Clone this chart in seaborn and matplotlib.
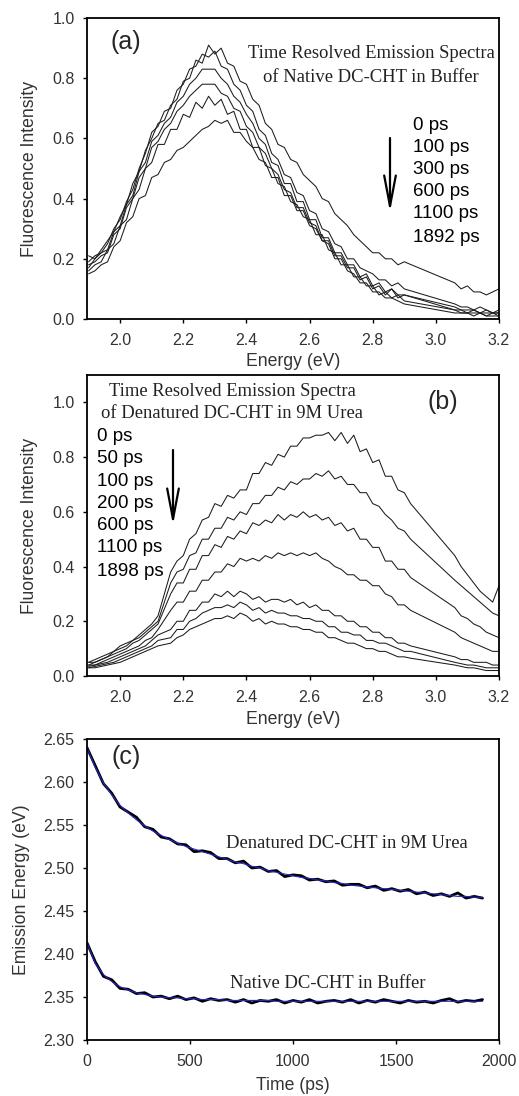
import numpy as np
import pandas as pd
import matplotlib
matplotlib.use("Agg")
import matplotlib.pyplot as plt
import seaborn as sns

# ---------------- data ----------------
energy_a = [1.90, 1.92, 1.94, 1.96, 1.98, 2.00, 2.02, 2.04, 2.06, 2.08, 2.10, 2.12, 2.14, 2.16, 2.18,
            2.20, 2.22, 2.24, 2.26, 2.28, 2.30, 2.32, 2.34, 2.36, 2.38, 2.40, 2.42, 2.44, 2.46, 2.48,
            2.50, 2.52, 2.54, 2.56, 2.58, 2.60, 2.62, 2.64, 2.66, 2.68, 2.70, 2.72, 2.74, 2.76, 2.78,
            2.80, 2.82, 2.84, 2.86, 2.88, 2.90,
            3.06, 3.08, 3.10, 3.12, 3.14, 3.16, 3.18, 3.20]

native_labels = ["0 ps", "100 ps", "300 ps", "600 ps", "1100 ps", "1892 ps"]
native_0 = [0.21, 0.20, 0.23, 0.26, 0.29, 0.34, 0.38, 0.45, 0.49, 0.56, 0.60, 0.65, 0.66, 0.71, 0.73,
            0.79, 0.80, 0.86, 0.85, 0.91, 0.88, 0.90, 0.85, 0.84, 0.79, 0.78, 0.73, 0.71, 0.65, 0.63,
            0.58, 0.57, 0.53, 0.52, 0.48, 0.46, 0.44, 0.40, 0.39, 0.35, 0.33, 0.31, 0.28, 0.26, 0.24,
            0.22, 0.22, 0.20, 0.20, 0.18, 0.19,
            0.12, 0.10, 0.11, 0.09, 0.09, 0.08, 0.09, 0.10]
native_100 = [0.19, 0.21, 0.22, 0.25, 0.30, 0.33, 0.39, 0.43, 0.50, 0.55, 0.62, 0.64, 0.69, 0.70, 0.76,
              0.78, 0.83, 0.84, 0.88, 0.87, 0.89, 0.84, 0.83, 0.78, 0.76, 0.71, 0.69, 0.63, 0.61, 0.55,
              0.53, 0.48, 0.47, 0.42, 0.41, 0.36, 0.35, 0.30, 0.29, 0.25, 0.24, 0.20, 0.20, 0.17, 0.16,
              0.15, 0.13, 0.13, 0.11, 0.12, 0.10,
              0.05, 0.04, 0.04, 0.03, 0.04, 0.03, 0.02, 0.03]
native_300 = [0.17, 0.20, 0.22, 0.23, 0.29, 0.31, 0.38, 0.41, 0.49, 0.52, 0.59, 0.61, 0.65, 0.67, 0.72,
              0.74, 0.78, 0.80, 0.83, 0.83, 0.83, 0.80, 0.78, 0.74, 0.72, 0.68, 0.65, 0.60, 0.58, 0.52,
              0.51, 0.45, 0.45, 0.39, 0.39, 0.33, 0.33, 0.27, 0.27, 0.22, 0.22, 0.18, 0.18, 0.14, 0.15,
              0.11, 0.12, 0.09, 0.10, 0.08, 0.08,
              0.04, 0.03, 0.03, 0.03, 0.02, 0.03, 0.02, 0.02]
native_600 = [0.18, 0.19, 0.21, 0.22, 0.28, 0.30, 0.37, 0.40, 0.47, 0.50, 0.57, 0.59, 0.63, 0.65, 0.69,
              0.71, 0.74, 0.76, 0.78, 0.78, 0.78, 0.75, 0.74, 0.70, 0.69, 0.64, 0.62, 0.57, 0.55, 0.50,
              0.48, 0.43, 0.42, 0.37, 0.37, 0.32, 0.31, 0.26, 0.26, 0.21, 0.21, 0.17, 0.17, 0.13, 0.14,
              0.10, 0.11, 0.08, 0.10, 0.07, 0.08,
              0.03, 0.03, 0.02, 0.03, 0.02, 0.02, 0.02, 0.02]
native_1100 = [0.16, 0.18, 0.19, 0.23, 0.25, 0.31, 0.33, 0.40, 0.43, 0.50, 0.52, 0.58, 0.58, 0.63, 0.63,
               0.68, 0.67, 0.72, 0.70, 0.74, 0.71, 0.73, 0.68, 0.69, 0.63, 0.63, 0.57, 0.57, 0.51, 0.50,
               0.45, 0.44, 0.39, 0.38, 0.34, 0.33, 0.28, 0.28, 0.23, 0.22, 0.18, 0.18, 0.14, 0.14, 0.11,
               0.11, 0.08, 0.09, 0.07, 0.08, 0.06,
               0.03, 0.02, 0.02, 0.02, 0.02, 0.01, 0.02, 0.01]
native_1892 = [0.15, 0.16, 0.18, 0.19, 0.24, 0.26, 0.32, 0.34, 0.40, 0.41, 0.47, 0.48, 0.52, 0.53, 0.56,
               0.57, 0.59, 0.61, 0.63, 0.64, 0.66, 0.65, 0.66, 0.62, 0.62, 0.59, 0.57, 0.53, 0.52, 0.47,
               0.47, 0.41, 0.41, 0.36, 0.36, 0.31, 0.30, 0.26, 0.25, 0.20, 0.20, 0.16, 0.15, 0.12, 0.12,
               0.09, 0.09, 0.07, 0.07, 0.06, 0.05,
               0.02, 0.02, 0.02, 0.01, 0.02, 0.01, 0.01, 0.01]

energy_b = [1.90, 1.92, 1.94, 1.96, 1.98, 2.00, 2.02, 2.04, 2.06, 2.08, 2.10, 2.12,
            2.16, 2.18, 2.20, 2.22, 2.24, 2.26, 2.28, 2.30, 2.32, 2.34, 2.36, 2.38, 2.40, 2.42,
            2.44, 2.46, 2.48, 2.50, 2.52, 2.54, 2.56, 2.58, 2.60, 2.62, 2.64, 2.66, 2.68, 2.70,
            2.72, 2.74, 2.76, 2.78, 2.80, 2.82, 2.84, 2.86, 2.88, 2.90, 2.92,
            3.06, 3.08, 3.10, 3.12, 3.14, 3.16, 3.18, 3.20]

urea_labels = ["0 ps", "50 ps", "100 ps", "200 ps", "600 ps", "1100 ps", "1898 ps"]
urea_0 = [0.05, 0.06, 0.07, 0.08, 0.09, 0.11, 0.12, 0.13, 0.15, 0.17, 0.19, 0.22,
          0.38, 0.42, 0.44, 0.50, 0.52, 0.57, 0.58, 0.63, 0.62, 0.66, 0.65, 0.68, 0.68, 0.74,
          0.74, 0.78, 0.77, 0.81, 0.80, 0.84, 0.84, 0.87, 0.87, 0.88, 0.88, 0.89, 0.86, 0.89,
          0.85, 0.88, 0.82, 0.83, 0.78, 0.79, 0.73, 0.73, 0.68, 0.67, 0.63,
          0.44, 0.40, 0.37, 0.34, 0.31, 0.29, 0.27, 0.33]
urea_50 = [0.05, 0.05, 0.06, 0.07, 0.09, 0.10, 0.11, 0.13, 0.14, 0.16, 0.18, 0.20,
           0.34, 0.38, 0.39, 0.44, 0.45, 0.50, 0.50, 0.54, 0.54, 0.58, 0.57, 0.60, 0.59, 0.63,
           0.63, 0.66, 0.66, 0.69, 0.68, 0.71, 0.70, 0.72, 0.72, 0.74, 0.73, 0.75, 0.72, 0.73,
           0.70, 0.70, 0.67, 0.67, 0.63, 0.62, 0.59, 0.57, 0.54, 0.53, 0.50,
           0.35, 0.33, 0.31, 0.29, 0.27, 0.25, 0.23, 0.22]
urea_100 = [0.04, 0.05, 0.06, 0.07, 0.08, 0.09, 0.10, 0.12, 0.13, 0.15, 0.17, 0.19,
            0.30, 0.34, 0.34, 0.39, 0.39, 0.44, 0.44, 0.48, 0.47, 0.51, 0.50, 0.53, 0.52, 0.56,
            0.55, 0.57, 0.56, 0.59, 0.57, 0.59, 0.58, 0.60, 0.58, 0.59, 0.57, 0.58, 0.55, 0.56,
            0.53, 0.54, 0.50, 0.50, 0.47, 0.47, 0.42, 0.42, 0.39, 0.39, 0.36,
            0.25, 0.22, 0.21, 0.19, 0.18, 0.16, 0.15, 0.14]
urea_200 = [0.04, 0.04, 0.05, 0.06, 0.07, 0.08, 0.09, 0.10, 0.11, 0.13, 0.14, 0.17,
            0.24, 0.27, 0.27, 0.31, 0.31, 0.35, 0.35, 0.38, 0.38, 0.41, 0.40, 0.43, 0.42, 0.43,
            0.42, 0.44, 0.43, 0.45, 0.44, 0.45, 0.44, 0.45, 0.44, 0.45, 0.43, 0.42, 0.40, 0.39,
            0.37, 0.37, 0.35, 0.35, 0.33, 0.33, 0.30, 0.29, 0.26, 0.26, 0.24,
            0.16, 0.14, 0.13, 0.12, 0.11, 0.10, 0.09, 0.09]
urea_600 = [0.035, 0.04, 0.045, 0.05, 0.06, 0.07, 0.08, 0.09, 0.10, 0.11, 0.13, 0.15,
            0.17, 0.20, 0.20, 0.24, 0.24, 0.27, 0.27, 0.30, 0.29, 0.31, 0.29, 0.31, 0.30, 0.28,
            0.29, 0.27, 0.28, 0.28, 0.27, 0.28, 0.26, 0.27, 0.25, 0.26, 0.24, 0.24, 0.22, 0.22,
            0.20, 0.20, 0.18, 0.18, 0.16, 0.16, 0.14, 0.14, 0.12, 0.12, 0.11,
            0.07, 0.06, 0.06, 0.05, 0.05, 0.05, 0.04, 0.04]
urea_1100 = [0.03, 0.035, 0.04, 0.045, 0.05, 0.06, 0.07, 0.08, 0.09, 0.10, 0.11, 0.13,
             0.14, 0.17, 0.17, 0.20, 0.21, 0.23, 0.24, 0.25, 0.25, 0.26, 0.25, 0.27, 0.26, 0.24,
             0.25, 0.23, 0.24, 0.23, 0.23, 0.22, 0.22, 0.21, 0.21, 0.20, 0.20, 0.18, 0.18, 0.16,
             0.16, 0.15, 0.15, 0.13, 0.13, 0.12, 0.12, 0.11, 0.10, 0.09, 0.09,
             0.05, 0.045, 0.04, 0.04, 0.035, 0.03, 0.03, 0.03]
urea_1898 = [0.03, 0.03, 0.035, 0.04, 0.045, 0.05, 0.06, 0.07, 0.08, 0.09, 0.10, 0.11,
             0.12, 0.14, 0.15, 0.17, 0.18, 0.19, 0.20, 0.21, 0.21, 0.22, 0.21, 0.23, 0.22, 0.20,
             0.21, 0.19, 0.20, 0.19, 0.19, 0.18, 0.18, 0.17, 0.17, 0.16, 0.16, 0.14, 0.14, 0.13,
             0.12, 0.12, 0.11, 0.10, 0.10, 0.09, 0.09, 0.08, 0.07, 0.07, 0.065,
             0.04, 0.035, 0.03, 0.03, 0.025, 0.02, 0.02, 0.02]

time_ps = [0, 40, 80, 120, 160, 200, 240, 280, 320, 360, 400, 440, 480, 520, 560, 600, 640,
           680, 720, 760, 800, 840, 880, 920, 960, 1000, 1040, 1080, 1120, 1160, 1200, 1240,
           1280, 1320, 1360, 1400, 1440, 1480, 1520, 1560, 1600, 1640, 1680, 1720, 1760, 1800,
           1840, 1880, 1920]
denatured_data = [2.640, 2.619, 2.598, 2.587, 2.571, 2.565, 2.559, 2.548, 2.545, 2.536, 2.534,
                  2.528, 2.527, 2.519, 2.520, 2.518, 2.511, 2.511, 2.506, 2.508, 2.500, 2.501,
                  2.496, 2.497, 2.490, 2.492, 2.491, 2.486, 2.487, 2.484, 2.485, 2.480, 2.481,
                  2.481, 2.477, 2.479, 2.474, 2.476, 2.473, 2.475, 2.470, 2.472, 2.468, 2.470,
                  2.467, 2.471, 2.465, 2.467, 2.465]
denatured_fit = [2.640, 2.617, 2.599, 2.585, 2.573, 2.564, 2.556, 2.549, 2.543, 2.538, 2.533,
                 2.529, 2.525, 2.522, 2.519, 2.516, 2.513, 2.510, 2.507, 2.505, 2.502, 2.500,
                 2.497, 2.495, 2.493, 2.491, 2.489, 2.488, 2.486, 2.485, 2.483, 2.482, 2.480,
                 2.479, 2.478, 2.477, 2.476, 2.475, 2.474, 2.473, 2.472, 2.471, 2.470, 2.469,
                 2.468, 2.467, 2.467, 2.466, 2.466]
native_data = [2.413, 2.391, 2.374, 2.370, 2.360, 2.359, 2.354, 2.355, 2.350, 2.351, 2.348,
               2.351, 2.347, 2.349, 2.345, 2.348, 2.346, 2.347, 2.344, 2.347, 2.343, 2.346,
               2.345, 2.347, 2.343, 2.346, 2.344, 2.347, 2.343, 2.345, 2.346, 2.344, 2.347,
               2.343, 2.346, 2.344, 2.347, 2.345, 2.343, 2.346, 2.344, 2.345, 2.343, 2.346,
               2.348, 2.344, 2.346, 2.345, 2.347]
native_fit = [2.413, 2.389, 2.376, 2.368, 2.362, 2.358, 2.355, 2.353, 2.351, 2.350, 2.349,
              2.349, 2.348, 2.348, 2.347, 2.347, 2.347, 2.346, 2.346, 2.346, 2.346, 2.346,
              2.346, 2.345, 2.345, 2.345, 2.345, 2.345, 2.345, 2.345, 2.345, 2.345, 2.345,
              2.345, 2.345, 2.345, 2.345, 2.345, 2.345, 2.345, 2.345, 2.345, 2.345, 2.345,
              2.345, 2.345, 2.345, 2.345, 2.345]

# ---------------- tables ----------------
def long_table(x, curves, labels, xname, yname):
    parts = []
    for lab, vals in zip(labels, curves):
        parts.append(pd.DataFrame({xname: x, yname: vals, "series": lab}))
    return pd.concat(parts, ignore_index=True)

df_a = long_table(energy_a, [native_0, native_100, native_300, native_600, native_1100, native_1892],
                  native_labels, "energy", "intensity")
df_b = long_table(energy_b, [urea_0, urea_50, urea_100, urea_200, urea_600, urea_1100, urea_1898],
                  urea_labels, "energy", "intensity")
df_c_data = long_table(time_ps, [denatured_data, native_data], ["den", "nat"], "time", "energy")
df_c_fit = long_table(time_ps, [denatured_fit, native_fit], ["den", "nat"], "time", "energy")

# ---------------- figure ----------------
sns.set_style("ticks")
plt.rcParams["font.family"] = ["Liberation Sans", "DejaVu Sans"]

W, H = 519, 1096
fig = plt.figure(figsize=(W / 100, H / 100), dpi=100)


def P(x, y):
    return (x / W, 1 - y / H)


def axrect(top, bottom, left=87, right=499):
    return [left / W, 1 - bottom / H, (right - left) / W, (bottom - top) / H]


ax_a = fig.add_axes(axrect(18, 319))
ax_b = fig.add_axes(axrect(375, 676))
ax_c = fig.add_axes(axrect(739, 1040))

line_col = "#1c1c1c"
sns.lineplot(data=df_a, x="energy", y="intensity", hue="series",
             palette={k: line_col for k in native_labels}, estimator=None, sort=False,
             legend=False, linewidth=0.75, ax=ax_a)
sns.lineplot(data=df_b, x="energy", y="intensity", hue="series",
             palette={k: line_col for k in urea_labels}, estimator=None, sort=False,
             legend=False, linewidth=0.75, ax=ax_b)
sns.lineplot(data=df_c_data, x="time", y="energy", hue="series",
             palette={"den": "black", "nat": "black"}, estimator=None, sort=False,
             legend=False, linewidth=2.0, ax=ax_c)
sns.lineplot(data=df_c_fit, x="time", y="energy", hue="series",
             palette={"den": "#2626c8", "nat": "#2626c8"}, estimator=None, sort=False,
             legend=False, linewidth=0.8, ax=ax_c)

tick_col = "#333333"
for ax in (ax_a, ax_b, ax_c):
    for s in ax.spines.values():
        s.set_linewidth(1.3)
        s.set_color("black")
        s.set_visible(True)
    ax.tick_params(direction="out", length=3, width=1.0, color="black",
                   labelsize=11.5, labelcolor=tick_col)
    ax.tick_params(axis="x", pad=7)
    ax.tick_params(axis="y", pad=6)
    ax.grid(False)

for ax in (ax_a, ax_b):
    ax.set_xlim(1.895, 3.2)
    ax.set_xticks([2.0, 2.2, 2.4, 2.6, 2.8, 3.0, 3.2])
    ax.set_xticklabels(["2.0", "2.2", "2.4", "2.6", "2.8", "3.0", "3.2"])
    ax.set_yticks([0.0, 0.2, 0.4, 0.6, 0.8, 1.0])
    ax.set_yticklabels(["0.0", "0.2", "0.4", "0.6", "0.8", "1.0"])
    ax.set_xlabel("Energy (eV)", fontsize=12.7, color=tick_col, va="center")
    ax.xaxis.set_label_coords(0.5, -(362 - 319) / 301)
    ax.set_ylabel("Fluorescence Intensity", fontsize=12.7, color=tick_col, va="center")
    ax.yaxis.set_label_coords((30 - 87) / 412, 0.5)

ax_a.set_ylim(0, 1.0)
ax_b.set_ylim(0, 1.1)

ax_c.set_xlim(0, 2000)
ax_c.set_ylim(2.30, 2.65)
ax_c.set_xticks([0, 500, 1000, 1500, 2000])
ax_c.set_xticklabels(["0", "500", "1000", "1500", "2000"])
ax_c.set_yticks([2.30, 2.35, 2.40, 2.45, 2.50, 2.55, 2.60, 2.65])
ax_c.set_yticklabels(["2.30", "2.35", "2.40", "2.45", "2.50", "2.55", "2.60", "2.65"])
ax_c.set_xlabel("Time (ps)", fontsize=12.7, color=tick_col, va="center")
ax_c.xaxis.set_label_coords(0.5, -(1085 - 1040) / 301)
ax_c.set_ylabel("Emission Energy (eV)", fontsize=12.7, color=tick_col, va="center")
ax_c.yaxis.set_label_coords((22 - 87) / 412, 0.5)

# ---------------- annotations ----------------
serif = ["Liberation Serif", "DejaVu Serif"]
fig.text(*P(126, 42), "(a)", fontsize=18, ha="center", va="center")
fig.text(*P(443, 402), "(b)", fontsize=18, ha="center", va="center")
fig.text(*P(126, 757), "(c)", fontsize=18, ha="center", va="center")

fig.text(*P(371, 54), "Time Resolved Emission Spectra", family=serif, fontsize=13.4,
         ha="center", va="center", color="#222222")
fig.text(*P(371, 77), "of Native DC-CHT in Buffer", family=serif, fontsize=13.4,
         ha="center", va="center", color="#222222")
fig.text(*P(232, 391), "Time Resolved Emission Spectra", family=serif, fontsize=13.4,
         ha="center", va="center", color="#222222")
fig.text(*P(232, 413), "of Denatured DC-CHT in 9M Urea", family=serif, fontsize=13.4,
         ha="center", va="center", color="#222222")
fig.text(*P(347, 843), "Denatured DC-CHT in 9M Urea", family=serif, fontsize=13.4,
         ha="center", va="center", color="#222222")
fig.text(*P(328, 983), "Native DC-CHT in Buffer", family=serif, fontsize=13.4,
         ha="center", va="center", color="#222222")

for lab, y in zip(native_labels, [125, 147, 169, 192, 214, 237]):
    fig.text(*P(413, y), lab, fontsize=13.5, ha="left", va="center", color="black")
for lab, y in zip(urea_labels, [437, 459, 482, 504, 526, 548, 571]):
    fig.text(*P(97, y), lab, fontsize=13.5, ha="left", va="center", color="black")

arrow_style = dict(arrowstyle="->,head_length=2.2,head_width=0.42", lw=1.6, color="black",
                   shrinkA=0, shrinkB=0, mutation_scale=10)
fig.add_artist(matplotlib.patches.FancyArrowPatch(P(390, 138), P(390, 212),
                                                  transform=fig.transFigure, **arrow_style))
fig.add_artist(matplotlib.patches.FancyArrowPatch(P(173, 450), P(173, 525),
                                                  transform=fig.transFigure, **arrow_style))

fig.savefig("out.png", dpi=100, facecolor="white")
